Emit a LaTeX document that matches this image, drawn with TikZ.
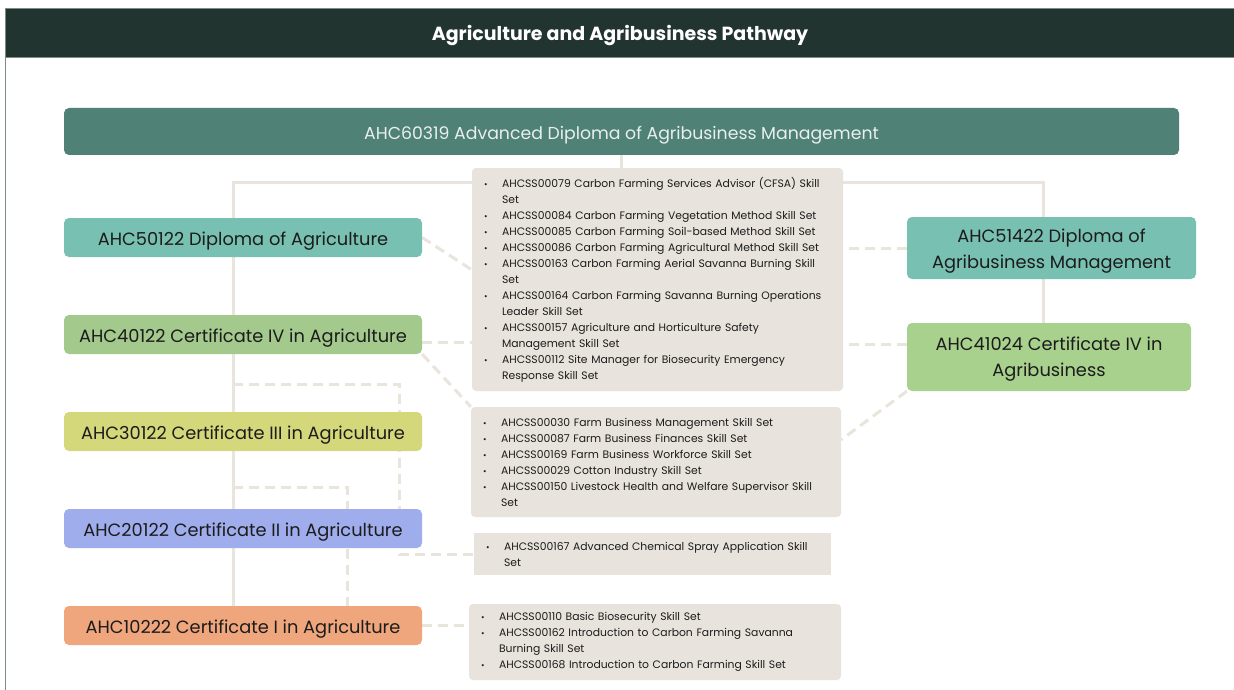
\documentclass[tikz,border=0pt]{standalone}
\usepackage{fontspec}
\setmainfont{Poppins}
\usetikzlibrary{calc,backgrounds}
\definecolor{headgreen}{HTML}{22342F}
\definecolor{framegrey}{HTML}{7E8A86}
\definecolor{advgreen}{HTML}{4F8176}
\definecolor{advtext}{HTML}{E9EFED}
\definecolor{dipteal}{HTML}{78C1B2}
\definecolor{certfour}{HTML}{A3C98C}
\definecolor{certfourb}{HTML}{A9D18E}
\definecolor{certthree}{HTML}{D5D77B}
\definecolor{certtwo}{HTML}{9FADEC}
\definecolor{certone}{HTML}{F0A67C}
\definecolor{skillgrey}{HTML}{E8E4DD}
\definecolor{linegrey}{HTML}{E9E5DC}
\definecolor{textdark}{HTML}{1C1C1C}
\tikzstyle{qual} = [rectangle, rounded corners=5pt, minimum width=358pt, minimum height=39pt, text centered, text=textdark, text height=16pt, text depth=0pt, font=\fontsize{17.8}{26}\selectfont]
\tikzstyle{skillbox} = [rectangle, rounded corners=4pt, fill=skillgrey, align=left, inner xsep=12pt, text=textdark, font=\fontsize{10.8}{16}\selectfont]
\tikzstyle{link} = [line width=3pt, draw=linegrey]
\tikzstyle{dlink} = [link, dash pattern=on 10pt off 6pt]
\newcommand{\itm}{\makebox[18pt][l]{\fontsize{8.5}{8.5}\selectfont\textbullet}}
\newcommand{\ind}{\hspace*{18pt}}

\begin{document}
\begin{tikzpicture}[x=1pt,y=-1pt,node distance=97pt]
\useasboundingbox (0,0) rectangle (1234,690);
\draw[framegrey, line width=1pt] (5.5,57) -- (5.5,695);
\node (band) [rectangle, fill=headgreen, draw=framegrey, line width=1pt, minimum width=1240pt, minimum height=49pt, anchor=north west] at (5,8) {};
\node (title) [text=white, text height=16pt, text depth=0pt, font=\bfseries\fontsize{19}{22}\selectfont] at (620,33) {Agriculture and Agribusiness Pathway};
% top qualification
\node (adv) [qual, fill=advgreen, text=advtext, minimum width=1115pt, minimum height=47pt, font=\fontsize{17.3}{20}\selectfont] at (621.5,131.5) {AHC60319 Advanced Diploma of Agribusiness Management};
% agriculture stream
\node (dip) [qual, fill=dipteal] at (243,237.5) {AHC50122 Diploma of Agriculture};
\node (cfour) [qual, fill=certfour, below of=dip] {AHC40122 Certificate IV in Agriculture};
\node (cthree) [qual, fill=certthree, below of=cfour] {AHC30122 Certificate III in Agriculture};
\node (ctwo) [qual, fill=certtwo, below of=cthree] {AHC20122 Certificate II in Agriculture};
\node (cone) [qual, fill=certone, below of=ctwo] {AHC10222 Certificate I in Agriculture};
% agribusiness stream
\node (rdip) [qual, fill=dipteal, minimum width=289pt, minimum height=62pt, align=center, text height=40pt] at (1051.5,248) {AHC51422 Diploma of\\Agribusiness Management};
\node (rcfour) [qual, fill=certfourb, minimum width=284pt, minimum height=68pt, align=center, text height=38.5pt] at (1049,357) {AHC41024 Certificate IV in\\Agribusiness};
% skill sets
\node (skone) [skillbox, minimum width=371pt, minimum height=223pt, text width=347pt] at (657.5,279.5) {%
\itm AHCSS00079 Carbon Farming Services Advisor (CFSA) Skill\\
\ind Set\\
\itm AHCSS00084 Carbon Farming Vegetation Method Skill Set\\
\itm AHCSS00085 Carbon Farming Soil-based Method Skill Set\\
\itm AHCSS00086 Carbon Farming Agricultural Method Skill Set\\
\itm AHCSS00163 Carbon Farming Aerial Savanna Burning Skill\\
\ind Set\\
\itm AHCSS00164 Carbon Farming Savanna Burning Operations\\
\ind Leader Skill Set\\
\itm AHCSS00157 Agriculture and Horticulture Safety\\
\ind Management Skill Set\\
\itm AHCSS00112 Site Manager for Biosecurity Emergency\\
\ind Response Skill Set};
\node (sktwo) [skillbox, minimum width=370pt, minimum height=110pt, text width=346pt] at (656,462) {%
\itm AHCSS00030 Farm Business Management Skill Set\\
\itm AHCSS00087 Farm Business Finances Skill Set\\
\itm AHCSS00169 Farm Business Workforce Skill Set\\
\itm AHCSS00029 Cotton Industry Skill Set\\
\itm AHCSS00150 Livestock Health and Welfare Supervisor Skill\\
\ind Set};
\node (skthree) [skillbox, rounded corners=0pt, minimum width=357pt, minimum height=42pt, text width=333pt] at (652.5,554) {%
\itm AHCSS00167 Advanced Chemical Spray Application Skill\\
\ind Set};
\node (skfour) [skillbox, minimum width=372pt, minimum height=76pt, text width=348pt] at (655,642) {%
\itm AHCSS00110 Basic Biosecurity Skill Set\\
\itm AHCSS00162 Introduction to Carbon Farming Savanna\\
\ind Burning Skill Set\\
\itm AHCSS00168 Introduction to Carbon Farming Skill Set};
% connectors
\coordinate (lt) at (233,182);
\coordinate (rt) at (1043,182);
\coordinate (ctwoj) at (399,384);
\coordinate (conej) at (347,487);
\begin{pgfonlayer}{background}
\fill[white] (0,0) rectangle (1234,690);
\draw[link] (adv.south) -- (adv.south |- skone.north);
\draw[link] (cone.north -| lt) -- (lt) -- (lt -| skone.west);
\draw[link] (lt -| skone.east) -- (rt) -- (rt |- rdip.north);
\draw[link] (rt |- rdip.south) -- (rt |- rcfour.north);
\draw[dlink] (dip.east) -- ($(skone.north west)+(0,102)$);
\draw[dlink] ($(cfour.east)+(0,8)$) -- ($(cfour.east -| skone.west)+(0,8)$);
\draw[dlink] (cfour.south east) -- (sktwo.north west);
\draw[dlink] (rdip.west) -- (rdip.west -| skone.east);
\draw[dlink] ($(rcfour.west)+(0,-13)$) -- ($(rcfour.west -| skone.east)+(0,-13)$);
\draw[dlink] (rcfour.south west) -- ($(sktwo.north east)+(0,33)$);
\draw[dlink] (lt |- ctwoj) -- (ctwoj) -- (ctwoj |- skthree.west) -- (skthree.west);
\draw[dlink] (lt |- conej) -- (conej) -- (conej |- cone.north);
\draw[dlink] (cone.east) -- (cone.east -| skfour.west);
\end{pgfonlayer}
\end{tikzpicture}
\end{document}
